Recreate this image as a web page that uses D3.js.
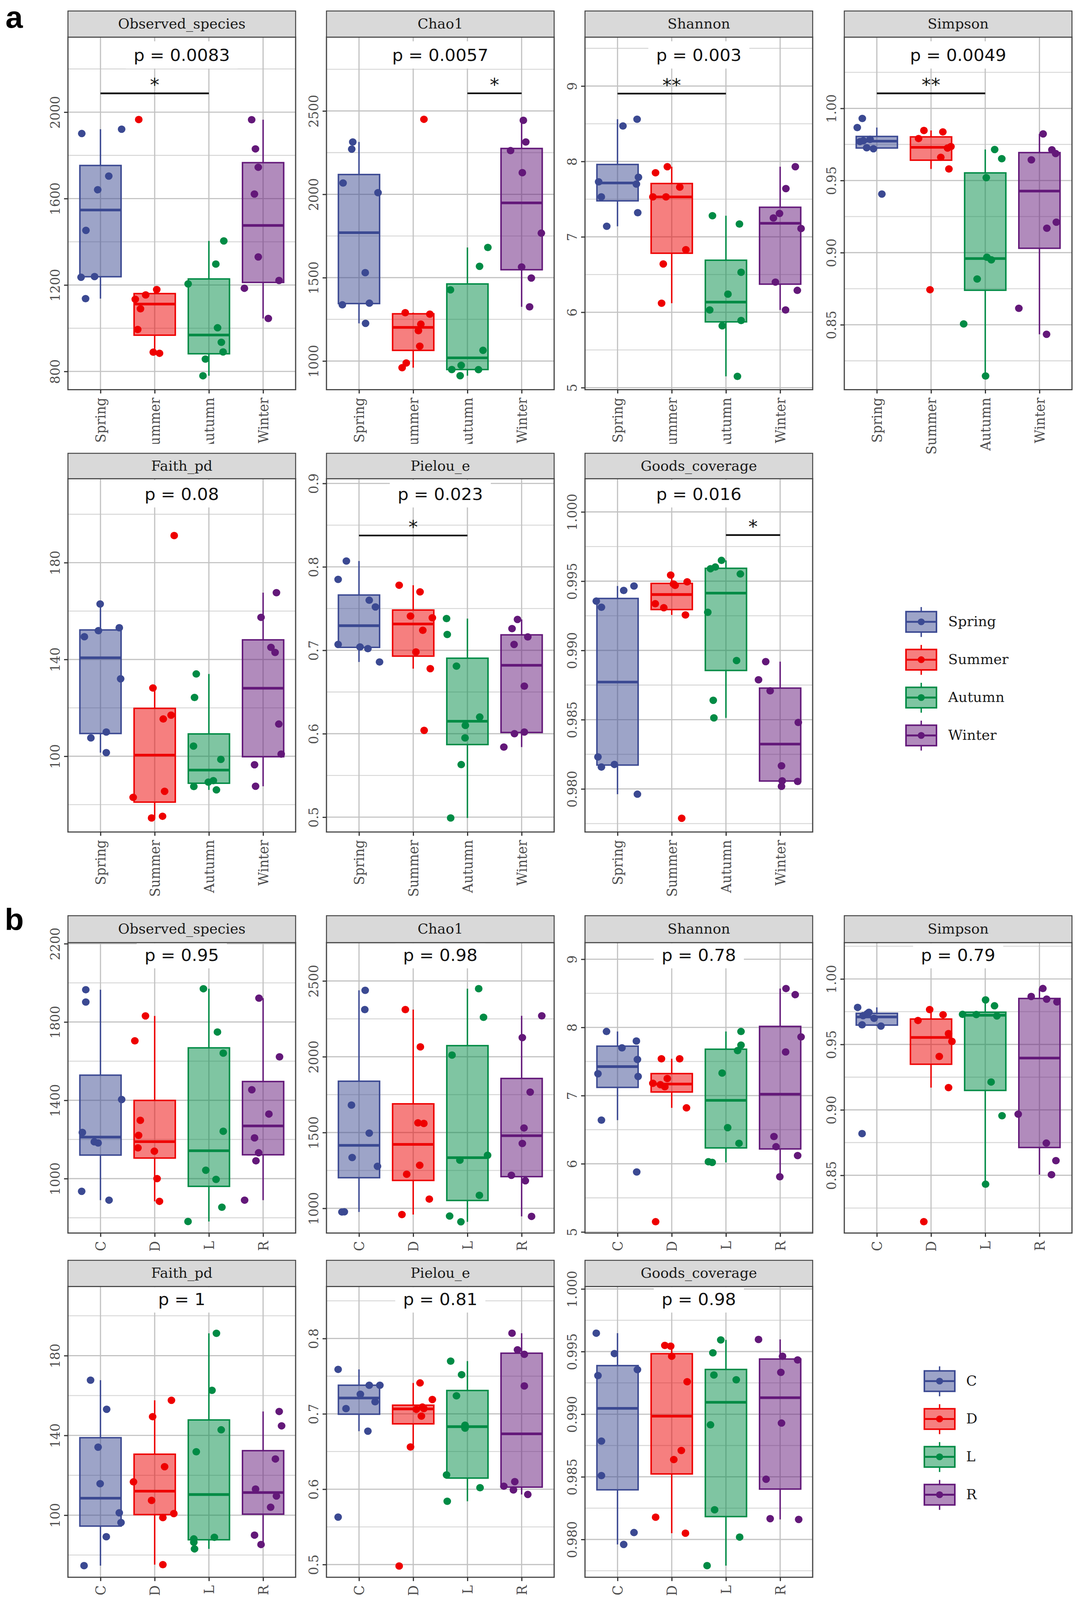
<!DOCTYPE html>
<html><head><meta charset="utf-8">
<script src="https://cdn.jsdelivr.net/npm/d3@7"></script>
<style>html,body{margin:0;padding:0;background:#fff;overflow:hidden} svg{display:block}</style>
</head><body>
<script>
// ---------------- DATA ----------------
const seasons = ["Spring","Summer","Autumn","Winter"];
const sites = ["C","D","L","R"];
const groupColors = ["#3B4992","#EE0000","#008B45","#631879"];
const metricNames = ["Observed_species","Chao1","Shannon","Simpson","Faith_pd","Pielou_e","Goods_coverage"];
const pValuesA = ["0.0083","0.0057","0.003","0.0049","0.08","0.023","0.016"];
const pValuesB = ["0.95","0.98","0.78","0.79","1","0.81","0.98"];
const tickFormats = ["d","d","d",".2f","d",".1f",".3f"];

// Section a (by season)
const obsA = [[1901,1921,1704,1641,1453,1236,1239,1137],[1966,1134,1154,1179,1090,994,889,884],[1404,1297,1205,1002,935,890,857,780],[1965,1830,1745,1621,1330,1221,1185,1045]];
const obsA_jit = [[-0.345,0.39,0.153,-0.051,-0.268,-0.358,-0.109,-0.275],[-0.294,-0.358,-0.166,0.038,-0.262,-0.313,-0.026,0.089],[0.275,0.128,-0.383,0.16,0.23,0.262,-0.064,-0.109],[-0.211,-0.141,-0.089,-0.16,-0.089,0.294,-0.345,0.096]];
const chaoA = [[2314,2271,2068,2010,1530,1337,1347,1226],[2450,1290,1281,1221,1182,1089,988,960],[1681,1568,1427,1064,974,949,948,912],[2444,2314,2262,2130,1767,1564,1498,1325]];
const chaoA_jit = [[-0.115,-0.134,-0.294,0.351,0.115,-0.307,0.192,0.121],[0.198,-0.147,0.307,0.141,0.096,0.121,-0.128,-0.204],[0.377,0.224,-0.313,0.288,-0.115,-0.288,0.204,-0.134],[0.032,0.077,-0.204,0.013,0.364,0,0.179,0.147]];
const shanA = [[8.56,8.47,7.79,7.73,7.70,7.53,7.32,7.14],[7.93,7.85,7.66,7.53,7.53,6.83,6.64,6.12],[7.28,7.17,6.53,6.24,6.03,5.89,5.82,5.15],[7.93,7.64,7.31,7.25,7.11,6.40,6.29,6.03]];
const shanA_jit = [[0.361,0.1,0.386,-0.348,0.348,-0.299,0.373,-0.199],[-0.081,-0.299,0.149,-0.106,-0.348,0.261,-0.156,-0.187],[-0.249,0.249,0.28,0.037,-0.299,0.28,-0.068,0.212],[0.28,0.106,-0.012,-0.124,0.386,-0.087,0.317,0.1]];
const simpA = [[0.9930,0.9867,0.9785,0.9776,0.9770,0.9727,0.9720,0.9406],[0.9847,0.9837,0.9791,0.9735,0.9725,0.9661,0.9580,0.8743],[0.9715,0.9651,0.9520,0.8968,0.8950,0.8817,0.8506,0.8145],[0.9823,0.9713,0.9687,0.9643,0.9211,0.9169,0.8614,0.8434]];
const simpA_jit = [[-0.268,-0.361,-0.124,-0.249,-0.311,-0.187,-0.062,0.093],[-0.131,0.218,-0.23,0.367,0.305,0.18,0.33,-0.019],[0.174,0.305,0.019,0.031,0.112,-0.149,-0.398,0.006],[0.068,0.23,0.299,-0.149,0.311,0.137,-0.38,0.131]];
const faithA = [[162.9,149.4,151.9,153.1,132.0,110.0,107.6,101.5],[191.2,128.2,117.0,115.4,85.5,83.0,75.2,74.5],[134.0,124.3,104.2,98.7,89.9,89.3,87.5,86.1],[167.6,157.4,145.0,142.9,113.3,100.9,96.5,87.6]];
const faithA_jit = [[-0.006,-0.297,-0.038,0.347,0.372,0.107,-0.177,0.107],[0.36,-0.032,0.303,0.158,0.183,-0.397,0.145,-0.057],[-0.233,-0.265,-0.284,0.221,0.082,-0.01,-0.278,0.139],[0.246,-0.038,0.145,0.221,0.29,0.334,-0.158,-0.139]];
const pielA = [[0.807,0.785,0.760,0.752,0.707,0.704,0.702,0.686],[0.778,0.770,0.741,0.739,0.724,0.698,0.678,0.604],[0.738,0.719,0.681,0.620,0.610,0.595,0.563,0.499],[0.737,0.726,0.716,0.707,0.657,0.602,0.600,0.584]];
const pielA_jit = [[-0.233,-0.385,0.189,0.303,-0.385,0.019,0.164,0.379],[-0.259,0.126,-0.05,0.353,0.177,0.05,0.315,0.202],[-0.385,-0.372,-0.202,0.227,-0.038,-0.044,-0.114,-0.309],[-0.076,-0.177,0.114,-0.139,0.05,0.05,-0.132,-0.328]];
const goodsA = [[0.99465,0.99433,0.99356,0.99312,0.98231,0.98158,0.98177,0.97962],[0.99544,0.99495,0.99480,0.99470,0.99337,0.99308,0.99256,0.97788],[0.9965,0.99602,0.9959,0.99552,0.99275,0.98927,0.9864,0.98513],[0.98919,0.98788,0.98708,0.9848,0.98167,0.98058,0.98019,0.98054]];
const goodsA_jit = [[0.304,0.114,-0.392,-0.297,-0.361,-0.297,-0.057,0.367],[-0.019,0.285,0.032,0.063,-0.304,-0.146,0.253,0.184],[-0.082,-0.196,-0.285,0.266,-0.335,0.196,-0.234,-0.222],[-0.266,-0.399,-0.184,0.335,0.025,0.038,0.025,0.323]];

// Section b (by site)
const obsB = [[1965,1902,1404,1236,1188,1182,935,890],[1831,1704,1298,1221,1157,1140,1000,884],[1970,1749,1641,1242,1043,996,854,781],[1922,1622,1454,1330,1208,1132,1091,890]];
const obsB_jit = [[-0.271,-0.271,0.391,-0.334,-0.114,-0.044,-0.347,0.158],[-0.17,-0.366,-0.265,-0.297,-0.309,-0.006,0.044,0.088],[-0.101,0.158,0.265,0.265,-0.057,0.132,0.24,-0.385],[-0.076,0.303,-0.208,0.107,-0.158,-0.082,-0.132,-0.341]];
const chaoB = [[2438,2311,1681,1496,1335,1277,977,976],[2311,2065,1564,1560,1284,1225,1061,959],[2449,2260,2011,1350,1318,1086,949,911],[2270,2126,1767,1530,1428,1218,1182,947]];
const chaoB_jit = [[0.114,0.107,-0.139,0.189,-0.126,0.341,-0.271,-0.315],[-0.145,0.132,0.088,0.196,0.12,-0.12,0.297,-0.208],[0.208,0.297,-0.284,0.372,-0.139,0.221,-0.328,-0.12],[0.372,0.013,0.158,0.044,0.013,-0.189,0.069,0.183]];
const shanB = [[7.94,7.80,7.70,7.53,7.32,7.28,6.64,5.88],[7.54,7.54,7.25,7.18,7.16,7.13,6.82,5.15],[7.94,7.74,7.66,7.33,6.53,6.30,6.03,6.02],[8.57,8.48,7.86,7.64,6.40,6.25,6.12,5.81]];
const shanB_jit = [[-0.203,0.348,0.082,0.367,-0.361,0.38,-0.297,0.354],[-0.19,0.146,-0.082,-0.348,-0.209,-0.127,0.272,-0.297],[0.278,0.278,0.215,-0.07,0.032,0.241,-0.323,-0.253],[0.108,0.278,0.386,0.101,-0.114,-0.076,0.323,-0.006]];
const simpB = [[0.9783,0.9745,0.9735,0.9720,0.9700,0.9650,0.9640,0.8819],[0.9766,0.9727,0.9683,0.9583,0.9523,0.9408,0.9170,0.8146],[0.9840,0.9795,0.9730,0.9728,0.9718,0.9213,0.8955,0.8432],[0.9927,0.9866,0.9846,0.9825,0.8967,0.8746,0.8612,0.8505]];
const simpB_jit = [[-0.354,-0.146,-0.177,-0.253,-0.051,-0.272,0.076,-0.272],[-0.025,0.222,-0.241,0.323,0.386,0.152,0.323,-0.133],[0.006,0.171,-0.418,-0.165,0.215,0.108,0.31,0.006],[0.063,-0.152,0.133,0.323,-0.392,0.127,0.304,0.222]];
const faithB = [[167.7,153.1,134.1,115.8,101.2,96.3,89.2,74.7],[157.6,149.4,124.3,116.7,107.4,100.8,98.8,75.2],[191.2,162.6,142.8,131.8,88.9,88.1,86.4,83.1],[152.0,144.8,128.2,113.1,109.6,104.0,90.0,85.3]];
const faithB_jit = [[-0.183,0.114,-0.044,-0.006,0.347,0.379,0.107,-0.303],[0.309,-0.038,0.183,-0.391,-0.057,0.353,0.151,0.151],[0.139,0.057,0.227,-0.233,0.101,-0.278,-0.278,-0.265],[0.297,0.341,0.227,-0.139,0.246,0.139,-0.158,-0.038]];
const pielB = [[0.759,0.738,0.738,0.726,0.716,0.707,0.677,0.563],[0.741,0.719,0.709,0.707,0.706,0.697,0.656,0.498],[0.770,0.752,0.724,0.685,0.681,0.619,0.602,0.584],[0.807,0.785,0.779,0.737,0.610,0.604,0.599,0.593]];
const pielB_jit = [[-0.385,0.189,0.385,0.025,0.297,-0.24,0.164,-0.385],[0.126,0.353,0.17,0.196,0.057,0.151,-0.05,-0.259],[-0.309,-0.107,-0.202,-0.044,-0.044,-0.385,0.233,-0.372],[-0.177,-0.076,0.05,0.05,-0.126,-0.328,-0.151,0.114]];
const goodsB = [[0.99647,0.99484,0.99356,0.99308,0.98785,0.9851,0.98055,0.9796],[0.99549,0.99543,0.99463,0.99259,0.9871,0.98638,0.98178,0.9805],[0.99593,0.9949,0.99313,0.99275,0.98915,0.98237,0.98019,0.97791],[0.99597,0.99463,0.99433,0.99334,0.98929,0.98481,0.98166,0.9816]];
const goodsB_jit = [[-0.392,-0.057,0.367,-0.361,-0.297,-0.297,0.304,0.114],[-0.127,-0.019,0,0.285,0.177,0.038,-0.297,0.253],[-0.095,-0.241,-0.222,0.19,-0.285,-0.209,0.253,-0.348],[-0.399,0.044,0.323,0.013,0.025,-0.259,-0.184,0.342]];

// axis ranges and ticks
const domainsA = [[715.5,2347.3],[828,2943],[4.973,9.649],[0.805,1.0494],[68.7,214.7],[0.4822,0.9057],[0.97689,1.0024]];
const domainsB = [[722,2205.7],[837,2753],[4.984,9.244],[0.8059,1.0278],[68.86,214.7],[0.4831,0.8691],[0.97698,1.0002]];
const majorTicksA = [[800,1200,1600,2000],[1000,1500,2000,2500],[5,6,7,8,9],[0.85,0.90,0.95,1.00],[100,140,180],[0.5,0.6,0.7,0.8,0.9],[0.980,0.985,0.990,0.995,1.000]];
const majorTicksB = [[1000,1400,1800,2200],[1000,1500,2000,2500],[5,6,7,8,9],[0.85,0.90,0.95,1.00],[100,140,180],[0.5,0.6,0.7,0.8],[0.980,0.985,0.990,0.995,1.000]];

// significance brackets (section a)
const sigPanels = [0,1,2,3,5,6];
const sigFrom   = [0,2,0,0,0,2];
const sigTo     = [2,3,2,2,2,3];
const sigY      = [2087,2606,8.90,1.0104,0.8376,0.99833];
const sigLabels = ["*","*","**","**","*","*"];

const valsA = [obsA,chaoA,shanA,simpA,faithA,pielA,goodsA];
const jitA  = [obsA_jit,chaoA_jit,shanA_jit,simpA_jit,faithA_jit,pielA_jit,goodsA_jit];
const valsB = [obsB,chaoB,shanB,simpB,faithB,pielB,goodsB];
const jitB  = [obsB_jit,chaoB_jit,shanB_jit,simpB_jit,faithB_jit,pielB_jit,goodsB_jit];

// ---------------- LAYOUT ----------------
const W = 2763, H = 4225;
const colLeft = [174, 836, 1498, 2162];
const panelW = 583;
const rows = [
  {stripTop:29,   plotTop:98,   plotBottom:1029, pOff:47},
  {stripTop:1197, plotTop:1264, plotBottom:2197, pOff:40},
  {stripTop:2418, plotTop:2489, plotBottom:3256, pOff:32},
  {stripTop:3328, plotTop:3397, plotBottom:4165, pOff:33}
];
const SERIF = "'DejaVu Serif', serif";
const SANS = "'DejaVu Sans', sans-serif";
const FS = 35;

// fit the whole figure into the visible window
const vw = document.documentElement.clientWidth || window.innerWidth || W;
const vh = document.documentElement.clientHeight || window.innerHeight || H;
const svg = d3.select("body").append("svg").attr("width",vw).attr("height",vh)
  .attr("viewBox",`0 0 ${W} ${H}`).attr("preserveAspectRatio","none");
svg.append("rect").attr("width",W).attr("height",H).attr("fill","#fff");
const defs = svg.append("defs");
defs.append("clipPath").attr("id","clipRow1").attr("clipPathUnits","userSpaceOnUse")
  .append("rect").attr("x",0).attr("y",0).attr("width",W).attr("height",1172);

function boxStats(v){
  const s = v.slice().sort(d3.ascending);
  const q1 = d3.quantile(s,0.25), med = d3.quantile(s,0.5), q3 = d3.quantile(s,0.75);
  const iqr = q3-q1;
  const lo = d3.min(s.filter(d=>d>=q1-1.5*iqr));
  const hi = d3.max(s.filter(d=>d<=q3+1.5*iqr));
  return {q1,med,q3,lo,hi};
}
function minorTicks(major, dom){
  const st = major[1]-major[0], out=[];
  for(let i=-1;i<major.length;i++){ const v = major[0]+(i+0.5)*st; if(v>dom[0]&&v<dom[1]) out.push(v); }
  return out;
}

function drawPanel(opt){
  const {left,row,name,cats,vals,jit,domain,major,fmt,pval,sig,clip} = opt;
  const r = rows[row];
  const right = left+panelW;
  const g = svg.append("g");
  const x = d3.scalePoint().domain(cats).range([left,right]).padding(0.6);
  const y = d3.scaleLinear().domain(domain).range([r.plotBottom, r.plotTop]);
  const step = x.step();

  g.append("rect").attr("x",left).attr("y",r.plotTop).attr("width",panelW)
    .attr("height",r.plotBottom-r.plotTop).attr("fill","#fff");
  // grid
  const minors = minorTicks(major, domain);
  g.selectAll(".mn").data(minors).join("line")
    .attr("x1",left).attr("x2",right).attr("y1",d=>y(d)).attr("y2",d=>y(d))
    .attr("stroke","#d6d6d6").attr("stroke-width",2.4);
  g.selectAll(".mj").data(major.filter(d=>d>domain[0]&&d<domain[1])).join("line")
    .attr("x1",left).attr("x2",right).attr("y1",d=>y(d)).attr("y2",d=>y(d))
    .attr("stroke","#c2c2c2").attr("stroke-width",3);
  g.selectAll(".vx").data(cats).join("line")
    .attr("x1",d=>x(d)).attr("x2",d=>x(d)).attr("y1",r.plotTop).attr("y2",r.plotBottom)
    .attr("stroke","#c2c2c2").attr("stroke-width",3);

  // p label with white background
  const pc = r.plotTop + r.pOff;
  const bg = g.append("rect").attr("fill","#fff");
  const pt = g.append("text").attr("x",(left+right)/2).attr("y",pc+16)
    .attr("text-anchor","middle").attr("font-family",SANS).attr("font-size",44)
    .attr("fill","#111").text("p = "+pval);
  const tw = pt.node().getComputedTextLength();
  const bgTop = Math.max(r.plotTop+2,pc-36);
  bg.attr("x",(left+right)/2-tw/2-20).attr("width",tw+40)
    .attr("y",bgTop).attr("height",pc+36-bgTop);

  // boxes
  vals.forEach((v,i)=>{
    const c = groupColors[i], cx = x(cats[i]), bw = step*0.76;
    const s = boxStats(v);
    const gg = g.append("g");
    gg.append("line").attr("x1",cx).attr("x2",cx).attr("y1",y(s.q3)).attr("y2",y(s.hi))
      .attr("stroke",c).attr("stroke-width",3.6);
    gg.append("line").attr("x1",cx).attr("x2",cx).attr("y1",y(s.q1)).attr("y2",y(s.lo))
      .attr("stroke",c).attr("stroke-width",3.6);
    gg.append("rect").attr("x",cx-bw/2).attr("width",bw).attr("y",y(s.q3))
      .attr("height",y(s.q1)-y(s.q3)).attr("fill",c).attr("fill-opacity",0.5)
      .attr("stroke",c).attr("stroke-width",3.8);
    gg.append("line").attr("x1",cx-bw/2).attr("x2",cx+bw/2).attr("y1",y(s.med)).attr("y2",y(s.med))
      .attr("stroke",c).attr("stroke-width",7);
  });
  // jittered points
  vals.forEach((v,i)=>{
    const c = groupColors[i], cx = x(cats[i]);
    g.selectAll(null).data(v).join("circle")
      .attr("cx",(d,j)=>cx+jit[i][j]*step).attr("cy",d=>y(d)).attr("r",9.8).attr("fill",c);
  });
  // significance bracket
  if(sig){
    const by = y(sig.y);
    g.append("line").attr("x1",x(cats[sig.from])).attr("x2",x(cats[sig.to]))
      .attr("y1",by).attr("y2",by).attr("stroke","#111").attr("stroke-width",4.5);
    g.append("text").attr("x",(x(cats[sig.from])+x(cats[sig.to]))/2).attr("y",by-6)
      .attr("text-anchor","middle").attr("font-family",SANS).attr("font-size",48)
      .attr("fill","#111").text(sig.label);
  }
  // border
  g.append("rect").attr("x",left).attr("y",r.plotTop).attr("width",panelW)
    .attr("height",r.plotBottom-r.plotTop).attr("fill","none").attr("stroke","#444").attr("stroke-width",3);
  // strip
  g.append("rect").attr("x",left).attr("y",r.stripTop).attr("width",panelW)
    .attr("height",r.plotTop-r.stripTop).attr("fill","#d9d9d9").attr("stroke","#444").attr("stroke-width",2.5);
  g.append("text").attr("x",(left+right)/2).attr("y",(r.stripTop+r.plotTop)/2+12)
    .attr("text-anchor","middle").attr("font-family",SERIF).attr("font-size",FS+1)
    .attr("fill","#1a1a1a").text(name);

  // y axis
  const ya = g.append("g").attr("transform",`translate(${left},0)`)
    .call(d3.axisLeft(y).tickValues(major.filter(d=>d>=domain[0]&&d<=domain[1])).tickFormat(d3.format(fmt)).tickSize(10));
  ya.select(".domain").remove();
  ya.selectAll(".tick line").attr("stroke","#333").attr("stroke-width",3);
  ya.selectAll(".tick text").attr("x",null).attr("dy",null).attr("text-anchor","middle")
    .attr("transform","translate(-21,0) rotate(-90)")
    .attr("font-family",SERIF).attr("font-size",FS-1).attr("fill","#4d4d4d");
  // x axis (wrapped so the clip region is in page coordinates)
  const xwrap = g.append("g");
  if(clip) xwrap.attr("clip-path","url(#clipRow1)");
  const xa = xwrap.append("g").attr("transform",`translate(0,${r.plotBottom})`)
    .call(d3.axisBottom(x).tickSize(10));
  xa.select(".domain").remove();
  xa.selectAll(".tick line").attr("stroke","#333").attr("stroke-width",3);
  xa.selectAll(".tick text").attr("y",null).attr("dy","0.36em").attr("text-anchor","end")
    .attr("transform","translate(0,21) rotate(-90)")
    .attr("font-family",SERIF).attr("font-size",FS).attr("fill","#4d4d4d");
}

function drawSection(vals,jits,domains,majors,pvals,cats,rowOffset,withSig){
  for(let k=0;k<7;k++){
    const row = rowOffset + (k<4?0:1);
    const col = k<4?k:k-4;
    let sig = null;
    if(withSig){
      const si = sigPanels.indexOf(k);
      if(si>=0) sig = {from:sigFrom[si],to:sigTo[si],y:sigY[si],label:sigLabels[si]};
    }
    drawPanel({left:colLeft[col],row,name:metricNames[k],cats,vals:vals[k],jit:jits[k],
      domain:domains[k],major:majors[k],fmt:tickFormats[k],pval:pvals[k],sig,
      clip: withSig && row===0 && col<3});
  }
}
drawSection(valsA,jitA,domainsA,majorTicksA,pValuesA,seasons,0,true);
drawSection(valsB,jitB,domainsB,majorTicksB,pValuesB,sites,2,false);

// legends
function drawLegend(cats, boxX, boxTop, labelX){
  const kw = 78, kh = 54, sp = 100;
  cats.forEach((c,i)=>{
    const col = groupColors[i], t = boxTop + i*sp, cx = boxX+kw/2, cy = t+kh/2;
    const g = svg.append("g");
    g.append("line").attr("x1",cx).attr("x2",cx).attr("y1",t-12).attr("y2",t+kh+13)
      .attr("stroke",col).attr("stroke-width",3.5);
    g.append("rect").attr("x",boxX).attr("y",t).attr("width",kw).attr("height",kh)
      .attr("fill","#fff");
    g.append("rect").attr("x",boxX).attr("y",t).attr("width",kw).attr("height",kh)
      .attr("fill",col).attr("fill-opacity",0.5).attr("stroke",col).attr("stroke-width",4);
    g.append("line").attr("x1",boxX).attr("x2",boxX+kw).attr("y1",cy).attr("y2",cy)
      .attr("stroke",col).attr("stroke-width",5);
    g.append("circle").attr("cx",cx).attr("cy",cy).attr("r",9).attr("fill",col);
    g.append("text").attr("x",labelX).attr("y",cy+12).attr("font-family",SERIF)
      .attr("font-size",FS+1).attr("fill","#1a1a1a").text(c);
  });
}
drawLegend(seasons, 2320, 1615, 2428);
drawLegend(sites, 2367, 3620, 2474);

// section tags
svg.append("text").attr("x",14).attr("y",73).attr("font-family","'Liberation Sans', Arial, sans-serif")
  .attr("font-weight","bold").attr("font-size",80).attr("fill","#000").text("a");
svg.append("text").attr("x",12).attr("y",2456).attr("font-family","'Liberation Sans', Arial, sans-serif")
  .attr("font-weight","bold").attr("font-size",80).attr("fill","#000").text("b");
</script>
</body></html>
